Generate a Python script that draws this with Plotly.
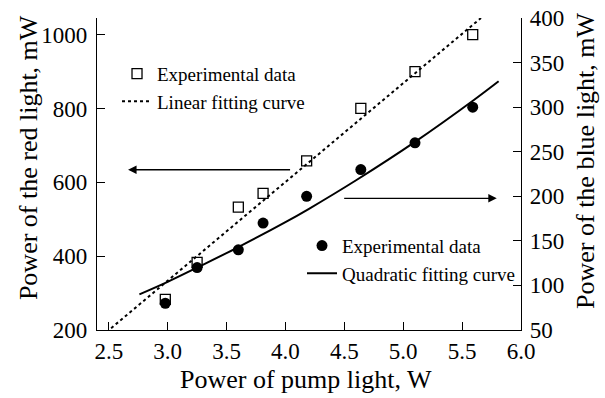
import plotly.graph_objects as go

# ---- data ----
pump_power = [2.98, 3.25, 3.60, 3.81, 4.18, 4.64, 5.10, 5.59]
red_power = [283, 383, 533, 570, 658, 800, 900, 1000]
blue_power = [80, 120, 140, 170, 200, 230, 260, 300]

lin_fit_x = [2.52, 5.66]
lin_fit_y = [205, 1045]

quad_fit_x = [2.76, 3.0, 3.25, 3.6, 4.0, 4.2, 4.6, 5.1, 5.6, 5.81]
quad_fit_y = [90, 104, 120, 143, 171, 186, 218, 261, 308, 329]

x_ticks = [2.5, 3.0, 3.5, 4.0, 4.5, 5.0, 5.5, 6.0]
red_ticks = [200, 400, 600, 800, 1000]
blue_ticks = [50, 100, 150, 200, 250, 300, 350, 400]

x_title = "Power of pump light, W"
red_title = "Power of the red light, mW"
blue_title = "Power of the blue light, mW"

FONT = "Liberation Serif"
BLACK = "#000000"

fig = go.Figure()

fig.add_trace(go.Scatter(
    x=pump_power, y=red_power, mode="markers", name="Experimental data",
    marker=dict(symbol="square-open", size=10, color=BLACK, line=dict(width=1.3, color=BLACK)),
    legend="legend",
))
fig.add_trace(go.Scatter(
    x=lin_fit_x, y=lin_fit_y, mode="lines", name="Linear fitting curve",
    line=dict(color=BLACK, width=2, dash="dot"),
    legend="legend",
))
fig.add_trace(go.Scatter(
    x=pump_power, y=blue_power, mode="markers", name="Experimental data",
    marker=dict(symbol="circle", size=11, color=BLACK),
    yaxis="y2", legend="legend2",
))
fig.add_trace(go.Scatter(
    x=quad_fit_x, y=quad_fit_y, mode="lines", name="Quadratic fitting curve",
    line=dict(color=BLACK, width=2, shape="spline"),
    yaxis="y2", legend="legend2",
))

axis_common = dict(
    showline=True, linecolor=BLACK, linewidth=1.3,
    ticks="inside", ticklen=8, tickwidth=1.3, tickcolor=BLACK,
    showgrid=False, zeroline=False, automargin=False,
    tickfont=dict(family=FONT, size=23, color=BLACK),
)

title_font = dict(family=FONT, size=26, color=BLACK)

fig.update_layout(
    template="none",
    width=605, height=398,
    margin=dict(l=97, r=84, t=18, b=68),
    paper_bgcolor="white", plot_bgcolor="white",
    font=dict(family=FONT, color=BLACK),
    xaxis=dict(range=[2.4, 6.0], tickvals=x_ticks, tickformat=".1f",
               ticklabelstandoff=0, **axis_common),
    yaxis=dict(range=[200, 1045], tickvals=red_ticks,
               ticklabelstandoff=4, **axis_common),
    yaxis2=dict(range=[50, 400], tickvals=blue_ticks, overlaying="y", side="right",
                ticklabelstandoff=3, **axis_common),
    legend=dict(
        x=0.0472, y=0.882, xanchor="left", yanchor="top",
        bgcolor="rgba(0,0,0,0)", borderwidth=0,
        font=dict(family=FONT, size=19, color=BLACK),
        traceorder="normal",
    ),
    legend2=dict(
        x=0.4835, y=0.331, xanchor="left", yanchor="top",
        bgcolor="rgba(0,0,0,0)", borderwidth=0,
        font=dict(family=FONT, size=19, color=BLACK),
        traceorder="normal",
    ),
    annotations=[
        dict(x=2.664, y=634, ax=4.052, ay=634, xref="x", yref="y", axref="x", ayref="y",
             showarrow=True, arrowhead=2, arrowsize=1.3, arrowwidth=1.3, arrowcolor=BLACK, text=""),
        dict(x=5.794, y=197.7, ax=4.486, ay=197.7, xref="x", yref="y2", axref="x", ayref="y2",
             showarrow=True, arrowhead=2, arrowsize=1.3, arrowwidth=1.3, arrowcolor=BLACK, text=""),
        dict(text=x_title, x=0.493, y=-0.160, xref="paper", yref="paper",
             xanchor="center", yanchor="middle", showarrow=False, font=title_font),
        dict(text=red_title, x=-0.1627, y=0.551, xref="paper", yref="paper", textangle=-90,
             xanchor="center", yanchor="middle", showarrow=False, font=title_font),
        dict(text=blue_title, x=1.1533, y=0.545, xref="paper", yref="paper", textangle=-90,
             xanchor="center", yanchor="middle", showarrow=False, font=title_font),
    ],
)

# remove the browser's default 8px body margin so the figure fills the window exactly
fig.write_html(
    "out.html",
    config={"displayModeBar": False},
    post_script="document.body.style.margin='0';document.body.style.overflow='hidden';",
)
